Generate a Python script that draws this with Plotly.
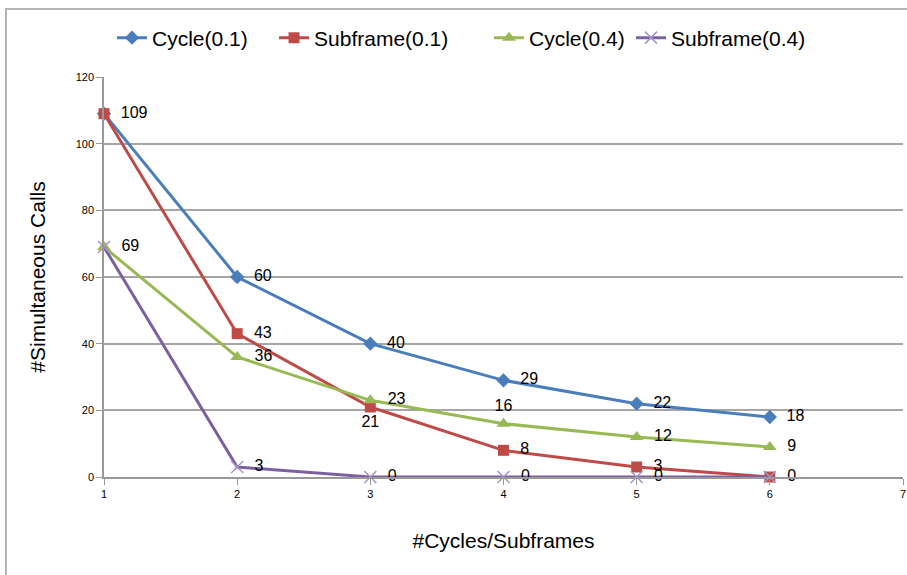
import plotly.graph_objects as go

x_vals = [1, 2, 3, 4, 5, 6]
cycle_01 = [109, 60, 40, 29, 22, 18]
subframe_01 = [109, 43, 21, 8, 3, 0]
cycle_04 = [69, 36, 23, 16, 12, 9]
subframe_04 = [69, 3, 0, 0, 0, 0]

series_names = ["Cycle(0.1)", "Subframe(0.1)", "Cycle(0.4)", "Subframe(0.4)"]
y_ticks = [0, 20, 40, 60, 80, 100, 120]
x_ticks = [1, 2, 3, 4, 5, 6, 7]

FONT = "Liberation Sans, Arial, sans-serif"
SP = "\u00a0\u00a0"

def labels(vals, skip=(), pos=None):
    out = []
    for i, v in enumerate(vals):
        if i in skip:
            out.append("")
        elif pos is not None and pos[i] != "middle right":
            out.append(str(v))
        else:
            out.append(SP + str(v))
    return out

fig = go.Figure()
LINE_SHAPE = "linear"

# Cycle(0.1)
fig.add_trace(go.Scatter(
    x=x_vals, y=cycle_01, name=series_names[0], mode="lines+markers+text",
    line=dict(color="#4a7ebb", width=3, shape=LINE_SHAPE),
    marker=dict(symbol="diamond", size=11, color="#4a7ebb"),
    text=labels(cycle_01, skip=(0,)), textposition="middle right",
    textfont=dict(size=16, color="#000000"), cliponaxis=False, legend="legend",
))
# Subframe(0.1)
sf01_pos = ["middle right"] * 6
sf01_pos[2] = "bottom center"
fig.add_trace(go.Scatter(
    x=x_vals, y=subframe_01, name=series_names[1], mode="lines+markers+text",
    line=dict(color="#be4b48", width=3, shape=LINE_SHAPE),
    marker=dict(symbol="square", size=11, color="#be4b48"),
    text=labels(subframe_01, skip=(5,), pos=sf01_pos), textposition=sf01_pos,
    textfont=dict(size=16, color="#000000"), cliponaxis=False, legend="legend2",
))
# Cycle(0.4)
c04_pos = ["middle right"] * 6
c04_pos[3] = "top center"
fig.add_trace(go.Scatter(
    x=x_vals, y=cycle_04, name=series_names[2], mode="lines+markers+text",
    line=dict(color="#98b954", width=3, shape=LINE_SHAPE),
    marker=dict(symbol="triangle-up", size=12, color="#98b954"),
    text=labels(cycle_04, pos=c04_pos), textposition=c04_pos,
    textfont=dict(size=16, color="#000000"), cliponaxis=False, legend="legend3",
))
# Subframe(0.4)
fig.add_trace(go.Scatter(
    x=x_vals, y=subframe_04, name=series_names[3], mode="lines+markers+text",
    line=dict(color="#7d60a0", width=3, shape=LINE_SHAPE),
    marker=dict(symbol="x-thin", size=12, color="#a993c8",
                line=dict(color="#a993c8", width=1.5)),
    text=labels(subframe_04, skip=(0,)), textposition="middle right",
    textfont=dict(size=16, color="#000000"), cliponaxis=False, legend="legend4",
))

def legend_at(xp):
    return dict(orientation="h", x=xp, xanchor="left", y=1.0975, yanchor="middle",
                font=dict(size=21, family=FONT), itemwidth=30,
                bgcolor="rgba(0,0,0,0)")

fig.update_layout(
    width=907, height=575,
    margin=dict(l=104, r=4, t=77, b=98, autoexpand=False),
    paper_bgcolor="white", plot_bgcolor="white",
    font=dict(family=FONT, color="#000000"),
    showlegend=True,
    legend=legend_at(0.010),
    legend2=legend_at(0.2128),
    legend3=legend_at(0.4819),
    legend4=legend_at(0.6596),
    xaxis=dict(
        range=[1, 7], tickvals=x_ticks, ticks="outside", ticklen=6,
        tickcolor="#999999", showgrid=False, showline=True, linecolor="#999999",
        linewidth=1.5, zeroline=False, tickfont=dict(size=11, family=FONT),
        title=dict(text="#Cycles/Subframes", font=dict(size=21), standoff=34),
    ),
    yaxis=dict(
        range=[0, 120], tickvals=y_ticks, ticks="outside", ticklen=6,
        tickcolor="#999999", showgrid=True, gridcolor="#a6a6a6", gridwidth=1.5,
        showline=True, linecolor="#999999", linewidth=1.5, zeroline=False,
        tickfont=dict(size=11, family=FONT),
        title=dict(text="#Simultaneous Calls", font=dict(size=21), standoff=24),
    ),
    shapes=[
        dict(type="rect", xref="paper", yref="paper", x0=-0.1227, x1=1.05, y0=1.17, y1=-0.4,
             line=dict(color="#b4b4b4", width=2), fillcolor="rgba(0,0,0,0)", layer="above"),
    ],
)

fig.write_html("out.html")
